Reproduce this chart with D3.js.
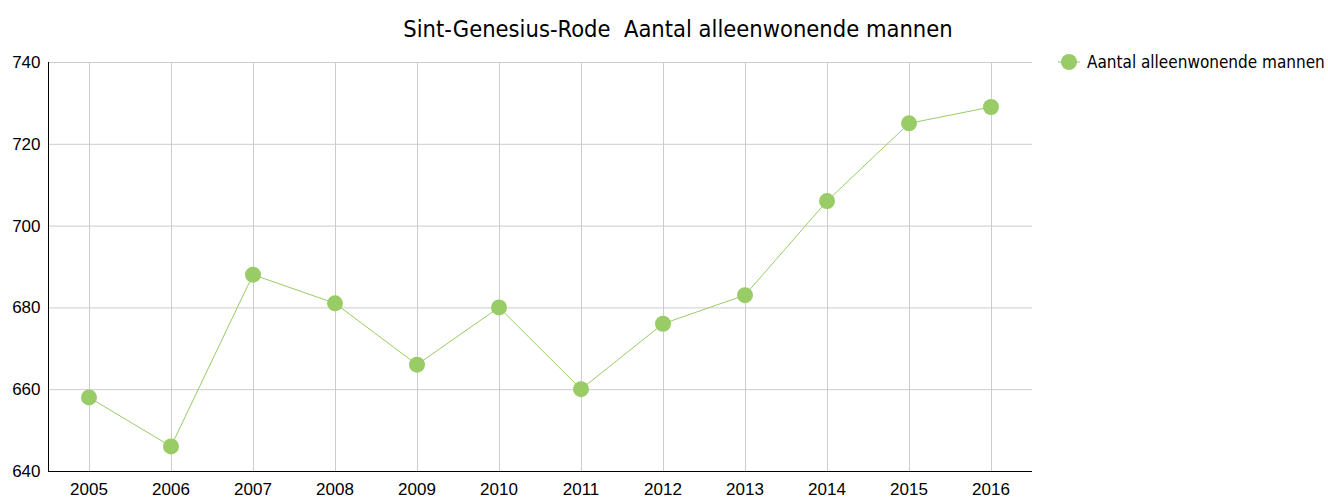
<!DOCTYPE html>
<html>
<head>
<meta charset="utf-8">
<script src="https://cdn.jsdelivr.net/npm/d3@7"></script>
<style>
  body { margin: 0; background: #fff; }
  svg { display: block; font-family: Tahoma, "DejaVu Sans Condensed", "DejaVu Sans", sans-serif; }
</style>
</head>
<body>
<div id="chart"></div>
<script>
// chart data
const years = ['2005','2006','2007','2008','2009','2010','2011','2012','2013','2014','2015','2016'];
const values = [658, 646, 688, 681, 666, 680, 660, 676, 683, 706, 725, 729];
const yTicks = [640, 660, 680, 700, 720, 740];
const title = 'Sint-Genesius-Rode  Aantal alleenwonende mannen';
const seriesName = 'Aantal alleenwonende mannen';

const width = 1328, height = 499;
const margin = {t:62, r:296, b:28, l:48};
const green = '#99cc66';

const svg = d3.select('#chart').append('svg')
    .attr('width', width)
    .attr('height', height);

const scaleX = d3.scaleBand().domain(years).range([margin.l, width - margin.r]);
const scaleY = d3.scaleLinear().domain([640, 740]).range([height - margin.b, margin.t]);

// grid
svg.append('g')
    .selectAll('line.h')
    .data(yTicks)
    .join('line')
    .attr('x1', margin.l).attr('x2', width - margin.r)
    .attr('y1', d => scaleY(d) + 0.5).attr('y2', d => scaleY(d) + 0.5)
    .attr('stroke', '#cccccc');

svg.append('g')
    .selectAll('line.v')
    .data(years)
    .join('line')
    .attr('x1', d => Math.round(scaleX(d) + scaleX.bandwidth()/2) + 0.5)
    .attr('x2', d => Math.round(scaleX(d) + scaleX.bandwidth()/2) + 0.5)
    .attr('y1', margin.t).attr('y2', height - margin.b)
    .attr('stroke', '#cccccc');

// axes
const xAxis = svg.append('g')
    .attr('transform', `translate(0,${height - margin.b + 0.5})`)
    .call(d3.axisBottom(scaleX).tickSize(0).tickPadding(11));
xAxis.select('.domain').attr('stroke', '#000').attr('d', `M${margin.l},0H${width - margin.r}`);
xAxis.selectAll('text').attr('font-size', 17).attr('fill', '#000').attr('font-family', null);

const yAxis = svg.append('g')
    .attr('transform', `translate(${margin.l + 0.5},0)`)
    .call(d3.axisLeft(scaleY).tickValues(yTicks).tickSize(0).tickPadding(8));
yAxis.select('.domain').attr('stroke', '#000').attr('d', `M0,${margin.t}V${height - margin.b}`);
yAxis.selectAll('text').attr('font-size', 17).attr('fill', '#000').attr('font-family', null);

// line + markers
const line = d3.line()
    .x((d, i) => scaleX(years[i]) + scaleX.bandwidth()/2)
    .y(d => scaleY(d));

svg.append('path')
    .datum(values)
    .attr('fill', 'none')
    .attr('stroke', green)
    .attr('stroke-width', 1)
    .attr('d', line);

svg.append('g')
    .selectAll('circle')
    .data(values)
    .join('circle')
    .attr('cx', (d, i) => scaleX(years[i]) + scaleX.bandwidth()/2)
    .attr('cy', d => scaleY(d))
    .attr('r', 8)
    .attr('fill', green);

// title
svg.append('text')
    .attr('x', 678).attr('y', 37)
    .attr('text-anchor', 'middle')
    .attr('font-size', 23.5)
    .style('white-space', 'pre')
    .text(title);

// legend
const lg = svg.append('g').attr('transform', 'translate(1069,62)');
lg.append('line').attr('x1', -11).attr('x2', 11).attr('stroke', green).attr('stroke-width', 1);
lg.append('circle').attr('r', 8).attr('fill', green);
lg.append('text').attr('x', 18).attr('y', 6).attr('font-size', 17).text(seriesName);
</script>
</body>
</html>
